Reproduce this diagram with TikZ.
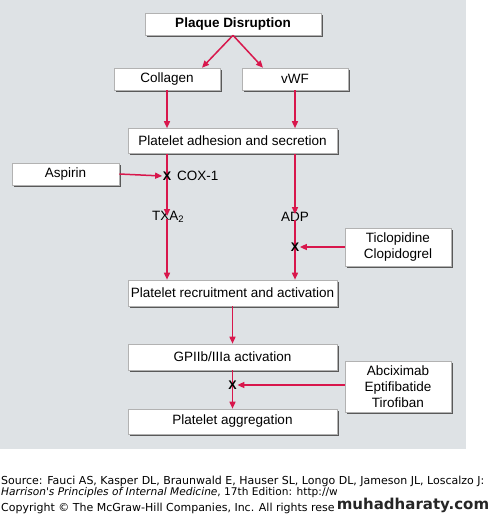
\documentclass[tikz,border=0pt]{standalone}
\usepackage{fontspec}
\setmainfont{Liberation Sans}
\newfontfamily\verd{DejaVu Sans}
\usetikzlibrary{arrows.meta,shadows}
\definecolor{bgc}{HTML}{DEE2E5}
\definecolor{arc}{HTML}{D8174C}
\tikzset{
  box/.style={draw=gray!60, line width=0.6pt, fill=white, inner sep=0pt, align=center,
    font=\fontsize{13.5}{16}\selectfont,
    drop shadow={shadow xshift=1.5pt, shadow yshift=-1.5pt, fill=black!65, opacity=1}},
  lbl/.style={inner sep=1pt, font=\fontsize{13.5}{16}\selectfont},
  xmark/.style={inner sep=0.5pt, font=\fontsize{12.5}{12}\selectfont\bfseries},
  arr/.style={draw=arc, line width=1.5pt, -{Triangle[length=7pt,width=6pt]}},
  foot/.style={anchor=west, inner sep=0pt, font=\verd\fontsize{11}{12}\selectfont}
}
\begin{document}
\begin{tikzpicture}[x=1pt,y=-1pt]
\useasboundingbox (0,0) rectangle (494,515);
\clip (0,0) rectangle (494,515);
\fill[bgc] (0,0) rectangle (466,449);

\node[box, minimum width=176pt, minimum height=22pt] (plaque) at (233,24) {\bfseries Plaque Disruption};
\node[box, minimum width=106pt, minimum height=22pt] (collagen) at (167,79) {Collagen};
\node[box, minimum width=106pt, minimum height=22pt] (vwf) at (295,79) {vWF};
\node[box, minimum width=209pt, minimum height=25pt] (adhesion) at (232.5,141) {Platelet adhesion and secretion};
\node[box, minimum width=107pt, minimum height=22pt] (aspirin) at (65.5,174) {Aspirin};
\node[box, minimum width=106pt, minimum height=38pt] (ticlo) at (398,247) {Ticlopidine\\Clopidogrel};
\node[box, minimum width=209pt, minimum height=26pt] (recruit) at (232.5,293) {Platelet recruitment and activation};
\node[box, minimum width=209pt, minimum height=26pt] (gp) at (232.5,357) {GPIIb/IIIa activation};
\node[box, minimum width=106pt, minimum height=51pt] (abcix) at (398,386.5) {Abciximab\\Eptifibatide\\Tirofiban};
\node[box, minimum width=209pt, minimum height=25pt] (agg) at (232.5,421.5) {Platelet aggregation};

\node[lbl, anchor=west, inner sep=0pt] (txa) at (152,217) {TXA\textsubscript{2}};
\coordinate (cl) at (167,176);
\node[lbl] (adp) at (295,217) {ADP};
\coordinate (al) at (295,247);
\coordinate (gl) at (232.5,385);

% arrows
\draw[arr] (plaque.south) -- ([xshift=35pt]collagen.north);
\draw[arr] (plaque.south) -- ([xshift=-32pt]vwf.north);
\draw[arr] (collagen.south) -- (collagen.south |- adhesion.north);
\draw[arr] (vwf.south) -- (vwf.south |- adhesion.north);
\draw[arr] (adhesion.south -| cl) -- ([yshift=-5pt]txa.north -| cl);
\draw[arr] ([yshift=4pt]txa.south -| cl) -- (recruit.north -| cl);
\draw[arr] (adhesion.south -| adp) -- ([yshift=-3pt]adp.north);
\draw[arr] ([yshift=3pt]adp.south) -- (recruit.north -| adp);
\draw[arr] (recruit.south) -- (gp.north);
\draw[arr] (gp.south) -- (agg.north);

\node[xmark] (x1) at (cl) {X};
\node[xmark] (x2) at (al) {X};
\node[xmark] (x3) at (gl) {X};
\node[lbl, anchor=west, inner sep=0pt] (cox) at ([xshift=5pt]x1.east) {COX-1};

\draw[arr] (aspirin.east) -- (x1.west);
\draw[arr] (ticlo.west) -- (x2.east);
\draw[arr] (abcix.west |- x3) -- (x3.east);

% footer
\node[foot] (s1) at (1,481) {Source: Fauci AS, Kasper DL, Braunwald E, Hauser SL, Longo DL, Jameson JL, Loscalzo J:};
\node[foot, font=\verd\fontsize{10.6}{12}\selectfont] (s2) at (1,493) {\itshape Harrison's Principles of Internal Medicine\upshape, 17th Edition: http://w};
\node[foot] (s3) at (1,508) {Copyright \textcopyright{} The McGraw-Hill Companies, Inc. All rights rese};
\fill[white] (337,487) rectangle (494,515);
\node[inner sep=0pt, font=\verd\bfseries\fontsize{15}{15}\selectfont, text=black!85] (wm) at (413,505) {muhadharaty.com};
\end{tikzpicture}
\end{document}
